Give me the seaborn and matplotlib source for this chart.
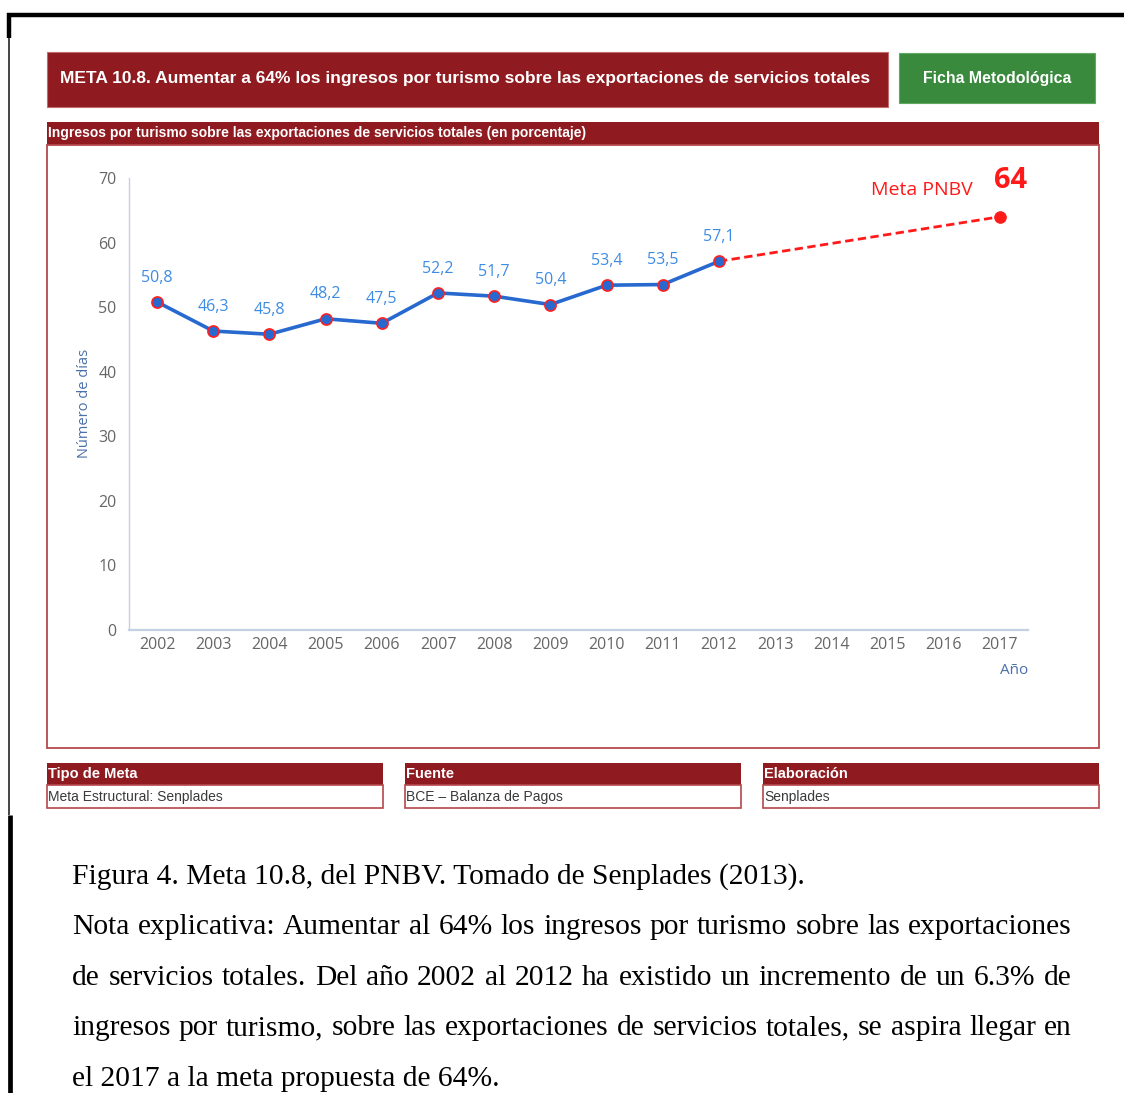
import matplotlib
matplotlib.use("Agg")
import matplotlib.pyplot as plt
import seaborn as sns
from matplotlib import font_manager
from matplotlib.patches import Rectangle
from matplotlib.lines import Line2D

# ---------------- data ----------------
years = [2002, 2003, 2004, 2005, 2006, 2007, 2008, 2009, 2010, 2011, 2012]
values = [50.8, 46.3, 45.8, 48.2, 47.5, 52.2, 51.7, 50.4, 53.4, 53.5, 57.1]
value_labels = ["50,8", "46,3", "45,8", "48,2", "47,5", "52,2", "51,7", "50,4", "53,4", "53,5", "57,1"]
target_years = [2012, 2017]
target_values = [57.1, 64]
axis_years = list(range(2002, 2018))
y_ticks = [0, 10, 20, 30, 40, 50, 60, 70]

title = "META 10.8. Aumentar a 64% los ingresos por turismo sobre las exportaciones de servicios totales"
button = "Ficha Metodológica"
subtitle = "Ingresos por turismo sobre las exportaciones de servicios totales (en porcentaje)"
box_heads = ["Tipo de Meta", "Fuente", "Elaboración"]
box_texts = ["Meta Estructural: Senplades", "BCE – Balanza de Pagos", "Senplades"]
caption_lines = [
    "Figura 4. Meta 10.8, del PNBV. Tomado de Senplades (2013).",
    "Nota explicativa: Aumentar al 64% los ingresos por turismo sobre las exportaciones",
    "de servicios totales. Del año 2002 al 2012 ha existido un incremento de un 6.3% de",
    "ingresos por turismo, sobre las exportaciones de servicios totales, se aspira llegar  en",
    "el 2017 a la meta propuesta de 64%.",
]

# ---------------- style ----------------
sns.set_theme(style="white")
names = {f.name for f in font_manager.fontManager.ttflist}
NARROW = "Liberation Sans Narrow" if "Liberation Sans Narrow" in names else "Liberation Sans"
CHART = "Open Sans" if "Open Sans" in names else "DejaVu Sans"
SERIF = "Liberation Serif"
plt.rcParams["font.family"] = [CHART, "DejaVu Sans"]

DARKRED = "#8F1B20"
GREEN = "#3A8A3E"
BORDER = "#B4484C"
BLUE = "#2769CF"
LABEL_BLUE = "#3D8CE3"
AXIS = "#C3D1E2"
TICKTXT = "#666666"

W, H = 1124, 1093
fig = plt.figure(figsize=(W / 100, H / 100), dpi=100)
fig.patch.set_facecolor("white")


def fx(x):
    return x / W


def fy(y):
    return 1 - y / H


def rect(x0, y0, x1, y1, fc="none", ec="none", lw=0.0):
    fig.add_artist(Rectangle((fx(x0), fy(y1)), (x1 - x0) / W, (y1 - y0) / H,
                             transform=fig.transFigure, facecolor=fc,
                             edgecolor=ec, linewidth=lw))


def line(xs, ys, **kw):
    fig.add_artist(Line2D([fx(v) for v in xs], [fy(v) for v in ys],
                          transform=fig.transFigure, **kw))


fig.canvas.draw()
R = fig.canvas.get_renderer()


def fit_text(x, y, s, width, **kw):
    t = fig.text(fx(x), fy(y), s, **kw)
    w = t.get_window_extent(renderer=R).width
    t.set_fontsize(t.get_fontsize() * width / w)
    return t


# ---------------- outer black frame ----------------
line([7, 1124], [15, 15], color="black", lw=3.2, solid_capstyle="butt")
line([9, 9], [13, 38], color="black", lw=3.2, solid_capstyle="butt")
line([8.5, 8.5], [38, 815], color="#444444", lw=1.4, solid_capstyle="butt")
line([10, 10], [815, 1093], color="black", lw=3.4, solid_capstyle="butt")

# ---------------- banners ----------------
rect(47, 52, 888, 107, fc=DARKRED, ec="#C06A6D", lw=0.8)
fit_text(465, 79, title, 812, color="white", fontweight="bold", family=[NARROW, "DejaVu Sans"],
         fontsize=14, ha="center", va="center")
rect(899, 53, 1095, 103, fc=GREEN, ec="#5FA862", lw=0.8)
fit_text(997, 78, button, 148, color="white", fontweight="bold", family=[NARROW, "DejaVu Sans"],
         fontsize=13, ha="center", va="center")

rect(47, 122, 1099, 145, fc=DARKRED)
fit_text(48, 133, subtitle, 539, color="white", fontweight="bold", family=[NARROW, "DejaVu Sans"],
         fontsize=10, ha="left", va="center")
rect(47, 145, 1099, 748, ec=BORDER, lw=1.3)

# ---------------- bottom boxes ----------------
box_x = [(47, 383), (405, 741), (763, 1099)]
for (x0, x1), head, body in zip(box_x, box_heads, box_texts):
    rect(x0, 763, x1, 785, fc=DARKRED)
    rect(x0, 785, x1, 808, fc="white", ec=BORDER, lw=1.2)
    fig.text(fx(x0 + 1), fy(774), head, color="white", fontweight="bold",
             family=[NARROW, "DejaVu Sans"], fontsize=10.5, ha="left", va="center")
    fig.text(fx(x0 + 1), fy(796.5), body, color="#3A3A3A",
             family=[NARROW, "DejaVu Sans"], fontsize=10, ha="left", va="center")

# ---------------- chart ----------------
ax = fig.add_axes([fx(129), fy(630), (1028 - 129) / W, (630 - 178) / H])
ax.set_facecolor("none")

sns.lineplot(x=target_years, y=target_values, ax=ax, color="#FF1A1A", lw=2.0,
             linestyle=(0, (3, 1.6)), zorder=2)
sns.scatterplot(x=target_years[-1:], y=target_values[-1:], ax=ax, color="#FF1A1A",
                s=70, edgecolor="#FF1A1A", zorder=4)
sns.lineplot(x=years, y=values, ax=ax, color=BLUE, lw=2.6, marker="o", markersize=8,
             markerfacecolor=BLUE, markeredgecolor="#FF2020", markeredgewidth=1.2, zorder=3)

for yr, v, lab in zip(years, values, value_labels):
    ax.annotate(lab, (yr, v), xytext=(0, 17.5), textcoords="offset points",
                ha="center", va="center", color=LABEL_BLUE, fontsize=11.5)

ax.annotate("Meta PNBV", (target_years[-1], target_values[-1]), xytext=(-19.5, 19),
            textcoords="offset points", ha="right", va="center", color="#FF1A1A",
            fontsize=14)
ax.annotate(str(target_values[-1]), (target_years[-1], target_values[-1]), xytext=(8, 26),
            textcoords="offset points", ha="center", va="center", color="#FF1A1A",
            fontsize=21, fontweight="bold")

ax.set_xlim(axis_years[0] - 0.5, axis_years[-1] + 0.5)
ax.set_ylim(y_ticks[0], y_ticks[-1])
ax.set_xticks(axis_years)
ax.set_xticklabels([str(y) for y in axis_years])
ax.set_xticks([y - 0.5 for y in axis_years] + [axis_years[-1] + 0.5], minor=True)
ax.set_yticks(y_ticks)
ax.set_yticklabels([str(t) for t in y_ticks])
ax.tick_params(axis="x", which="major", length=0, pad=5, labelsize=11.5, labelcolor=TICKTXT)
ax.tick_params(axis="x", which="minor", length=10, width=1, color=AXIS, direction="out")
ax.tick_params(axis="y", which="major", length=0, pad=9, labelsize=11.5, labelcolor=TICKTXT)
ax.grid(False)
for s in ["top", "right"]:
    ax.spines[s].set_visible(False)
ax.spines["left"].set_color(AXIS)
ax.spines["left"].set_linewidth(1.0)
ax.spines["bottom"].set_color(AXIS)
ax.spines["bottom"].set_linewidth(1.6)

ax.set_ylabel("Número de días", color="#4A6FA8", fontsize=10.5)
ax.yaxis.label.set_va("center")
ax.yaxis.set_label_coords((85 - 129) / 899, (630 - 403) / 452)
ax.set_xlabel("Año", color="#4A6FA8", fontsize=11)
ax.xaxis.set_label_coords(1.0, -(670 - 630) / 452)
ax.xaxis.label.set_ha("right")
ax.xaxis.label.set_va("center")

# ---------------- caption (justified like the source) ----------------
first = fit_text(72, 884, caption_lines[0], 734, family=SERIF, fontsize=19,
                 color="black", ha="left", va="baseline")
cap_size = first.get_fontsize()
baselines = [884, 934, 985, 1035, 1086]
for ln, base in zip(caption_lines[1:4], baselines[1:4]):
    words = ln.split()
    ts, widths = [], []
    for w in words:
        t = fig.text(0, fy(base), w, family=SERIF, fontsize=cap_size, color="black",
                     ha="left", va="baseline")
        ts.append(t)
        widths.append(t.get_window_extent(renderer=R).width)
    gap = (1000 - sum(widths)) / (len(words) - 1)
    x = 72
    for t, w in zip(ts, widths):
        t.set_x(fx(x))
        x += w + gap
fig.text(fx(72), fy(baselines[4]), caption_lines[4], family=SERIF, fontsize=cap_size,
         color="black", ha="left", va="baseline")

fig.savefig("out.png", dpi=100, facecolor="white")
